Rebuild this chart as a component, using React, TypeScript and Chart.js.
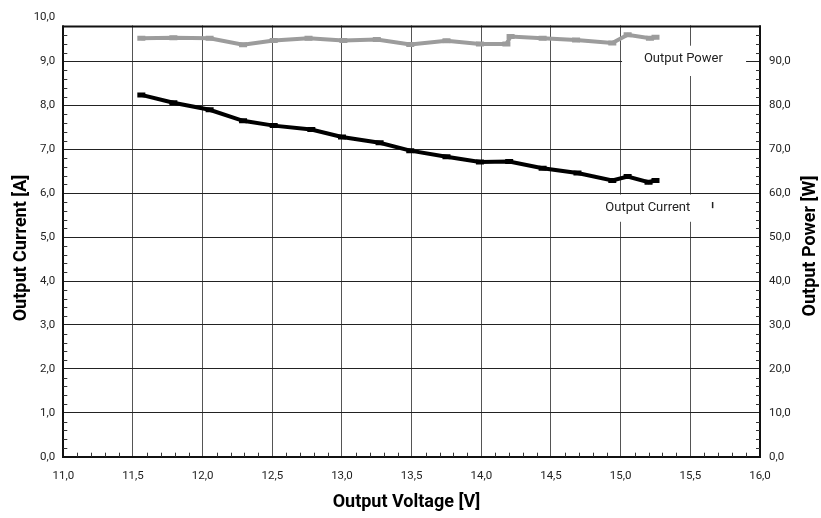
import React, { useEffect, useRef } from 'react';
import { Chart, registerables } from 'chart.js';

Chart.register(...registerables);

// ---- data ----
const currentVoltage = [11.56, 11.79, 12.05, 12.29, 12.51, 12.78, 13.0, 13.27, 13.49, 13.75, 13.99, 14.2, 14.44, 14.69, 14.94, 15.05, 15.2, 15.25];
const currentA = [8.24, 8.06, 7.9, 7.65, 7.54, 7.45, 7.28, 7.15, 6.97, 6.83, 6.71, 6.72, 6.57, 6.46, 6.29, 6.38, 6.25, 6.29];
const powerVoltage = [11.56, 11.79, 12.05, 12.29, 12.51, 12.76, 13.01, 13.25, 13.49, 13.75, 13.99, 14.18, 14.21, 14.44, 14.68, 14.94, 15.05, 15.21, 15.25];
const powerW = [95.3, 95.4, 95.3, 93.8, 94.8, 95.3, 94.8, 95.0, 93.9, 94.7, 94.0, 94.0, 95.7, 95.3, 94.9, 94.2, 96.1, 95.3, 95.5];

const xTickValues = [11.0, 11.5, 12.0, 12.5, 13.0, 13.5, 14.0, 14.5, 15.0, 15.5, 16.0];
const currentTickValues = [0, 1, 2, 3, 4, 5, 6, 7, 8, 9, 10];
const powerTickValues = [0, 10, 20, 30, 40, 50, 60, 70, 80, 90];

const xTitle = 'Output Voltage [V]';
const leftTitle = 'Output Current [A]';
const rightTitle = 'Output Power [W]';
const powerLabel = 'Output Power';
const currentLabel = 'Output Current';

const FRAME_TOP = 9.8;
const FONT = 'Roboto, "DejaVu Sans", sans-serif';

const fmt = (v: number) => v.toFixed(1).replace('.', ',');

const decor = {
  id: 'decor',
  beforeDatasetsDraw(chart: any) {
    const { ctx, chartArea: ca, scales } = chart;
    const x = scales.x;
    const y = scales.y;
    const frameTop = y.getPixelForValue(FRAME_TOP);
    ctx.save();
    // blank area above the frame
    ctx.fillStyle = '#ffffff';
    ctx.fillRect(ca.left - 3, ca.top - 3, ca.right - ca.left + 6, frameTop - ca.top + 2);
    // top frame line
    ctx.strokeStyle = '#111';
    ctx.lineWidth = 2;
    ctx.beginPath();
    ctx.moveTo(ca.left - 1, frameTop);
    ctx.lineTo(ca.right + 1, frameTop);
    ctx.stroke();

    // minor ticks
    ctx.strokeStyle = '#333';
    ctx.lineWidth = 1;
    ctx.beginPath();
    for (let i = 1; i < 49; i++) {
      if (i % 5 === 0) continue;
      const py = Math.round(y.getPixelForValue(i / 5)) + 0.5;
      ctx.moveTo(ca.left, py);
      ctx.lineTo(ca.left + 4, py);
      ctx.moveTo(ca.right, py);
      ctx.lineTo(ca.right - 4, py);
    }
    for (let i = 1; i < 50; i++) {
      if (i % 5 === 0) continue;
      const px = Math.round(x.getPixelForValue(11 + i / 10)) + 0.5;
      ctx.moveTo(px, ca.bottom);
      ctx.lineTo(px, ca.bottom - 4);
    }
    ctx.stroke();

    // label boxes
    const box = (x0: number, x1: number, y0: number, y1: number) => {
      const l = x.getPixelForValue(x0);
      const r = x.getPixelForValue(x1);
      const t = y.getPixelForValue(y0);
      const b = y.getPixelForValue(y1);
      ctx.fillStyle = '#ffffff';
      ctx.fillRect(l, t, r - l, b - t);
    };
    box(15.01, 15.9, 9.36, 8.67);
    box(14.84, 15.75, 5.97, 5.35);

    ctx.fillStyle = '#222';
    ctx.font = '13px ' + FONT;
    ctx.textAlign = 'center';
    ctx.textBaseline = 'middle';
    ctx.fillText(powerLabel, x.getPixelForValue(15.45), y.getPixelForValue(9.07));
    ctx.fillText(currentLabel, x.getPixelForValue(15.195), y.getPixelForValue(5.67));

    // small stray mark
    ctx.strokeStyle = '#222';
    ctx.lineWidth = 1.5;
    ctx.beginPath();
    const mx = x.getPixelForValue(15.66);
    ctx.moveTo(mx, y.getPixelForValue(5.8));
    ctx.lineTo(mx, y.getPixelForValue(5.66));
    ctx.stroke();
    ctx.restore();
  },
  afterDraw(chart: any) {
    const { ctx } = chart;
    ctx.save();
    ctx.fillStyle = '#000';
    ctx.font = 'bold 18px ' + FONT;
    ctx.textAlign = 'center';
    ctx.textBaseline = 'middle';
    ctx.fillText(xTitle, 406.5, 502);
    ctx.save();
    ctx.translate(21, 248);
    ctx.rotate(-Math.PI / 2);
    ctx.fillText(leftTitle, 0, 0);
    ctx.restore();
    ctx.save();
    ctx.translate(810.5, 246);
    ctx.rotate(-Math.PI / 2);
    ctx.fillText(rightTitle, 0, 0);
    ctx.restore();
    ctx.restore();
  },
};

export default function App() {
  const ref = useRef<HTMLCanvasElement>(null);
  useEffect(() => {
    if (!ref.current) return;
    Chart.defaults.font.family = FONT;
    const tickFont = { size: 11.5, family: FONT };
    const chart = new Chart(ref.current, {
      type: 'line',
      data: {
        datasets: [
          {
            label: currentLabel,
            data: currentVoltage.map((v, i) => ({ x: v, y: currentA[i] })),
            yAxisID: 'y',
            borderColor: '#000',
            backgroundColor: '#000',
            borderWidth: 4,
            pointStyle: 'line',
            pointRadius: 4,
            pointBorderWidth: 5,
            pointBorderColor: '#000',
            tension: 0,
          },
          {
            label: powerLabel,
            data: powerVoltage.map((v, i) => ({ x: v, y: powerW[i] })),
            yAxisID: 'y2',
            borderColor: '#9c9c9c',
            backgroundColor: '#9c9c9c',
            borderWidth: 4,
            pointStyle: 'line',
            pointRadius: 4,
            pointBorderWidth: 5,
            pointBorderColor: '#9c9c9c',
            tension: 0,
          },
        ],
      },
      options: {
        animation: false,
        responsive: true,
        maintainAspectRatio: false,
        layout: { padding: { top: 17.6, left: 0, right: 0, bottom: 0 } },
        plugins: { legend: { display: false }, tooltip: { enabled: false } },
        scales: {
          x: {
            type: 'linear',
            min: 11,
            max: 16,
            afterBuildTicks: (s: any) => { s.ticks = xTickValues.map((v) => ({ value: v })); },
            afterFit: (s: any) => { s.height = 61.3; },
            ticks: { callback: (v: any) => fmt(Number(v)), font: tickFont, color: '#222', padding: 13, maxRotation: 0, autoSkip: false },
            grid: { color: '#555', lineWidth: 1, drawTicks: false },
            border: { display: true, color: '#111', width: 2 },
          },
          y: {
            type: 'linear',
            position: 'left',
            min: 0,
            max: 10,
            afterBuildTicks: (s: any) => { s.ticks = currentTickValues.map((v) => ({ value: v })); },
            afterFit: (s: any) => { s.width = 63.3; },
            ticks: { callback: (v: any) => fmt(Number(v)), font: tickFont, color: '#222', padding: 8 },
            grid: { color: '#222', lineWidth: 1, drawTicks: false },
            border: { display: true, color: '#111', width: 2 },
          },
          y2: {
            type: 'linear',
            position: 'right',
            min: 0,
            max: 100,
            afterBuildTicks: (s: any) => { s.ticks = powerTickValues.map((v) => ({ value: v })); },
            afterFit: (s: any) => { s.width = 61; },
            ticks: { callback: (v: any) => fmt(Number(v)), font: tickFont, color: '#222', padding: 9 },
            grid: { display: false, drawTicks: false },
            border: { display: true, color: '#111', width: 2 },
          },
        },
      },
      plugins: [decor],
    });
    return () => chart.destroy();
  }, []);
  return (
    <div style={{ position: 'absolute', left: 0, top: 0, width: 821, height: 518 }}>
      <canvas ref={ref} />
    </div>
  );
}
